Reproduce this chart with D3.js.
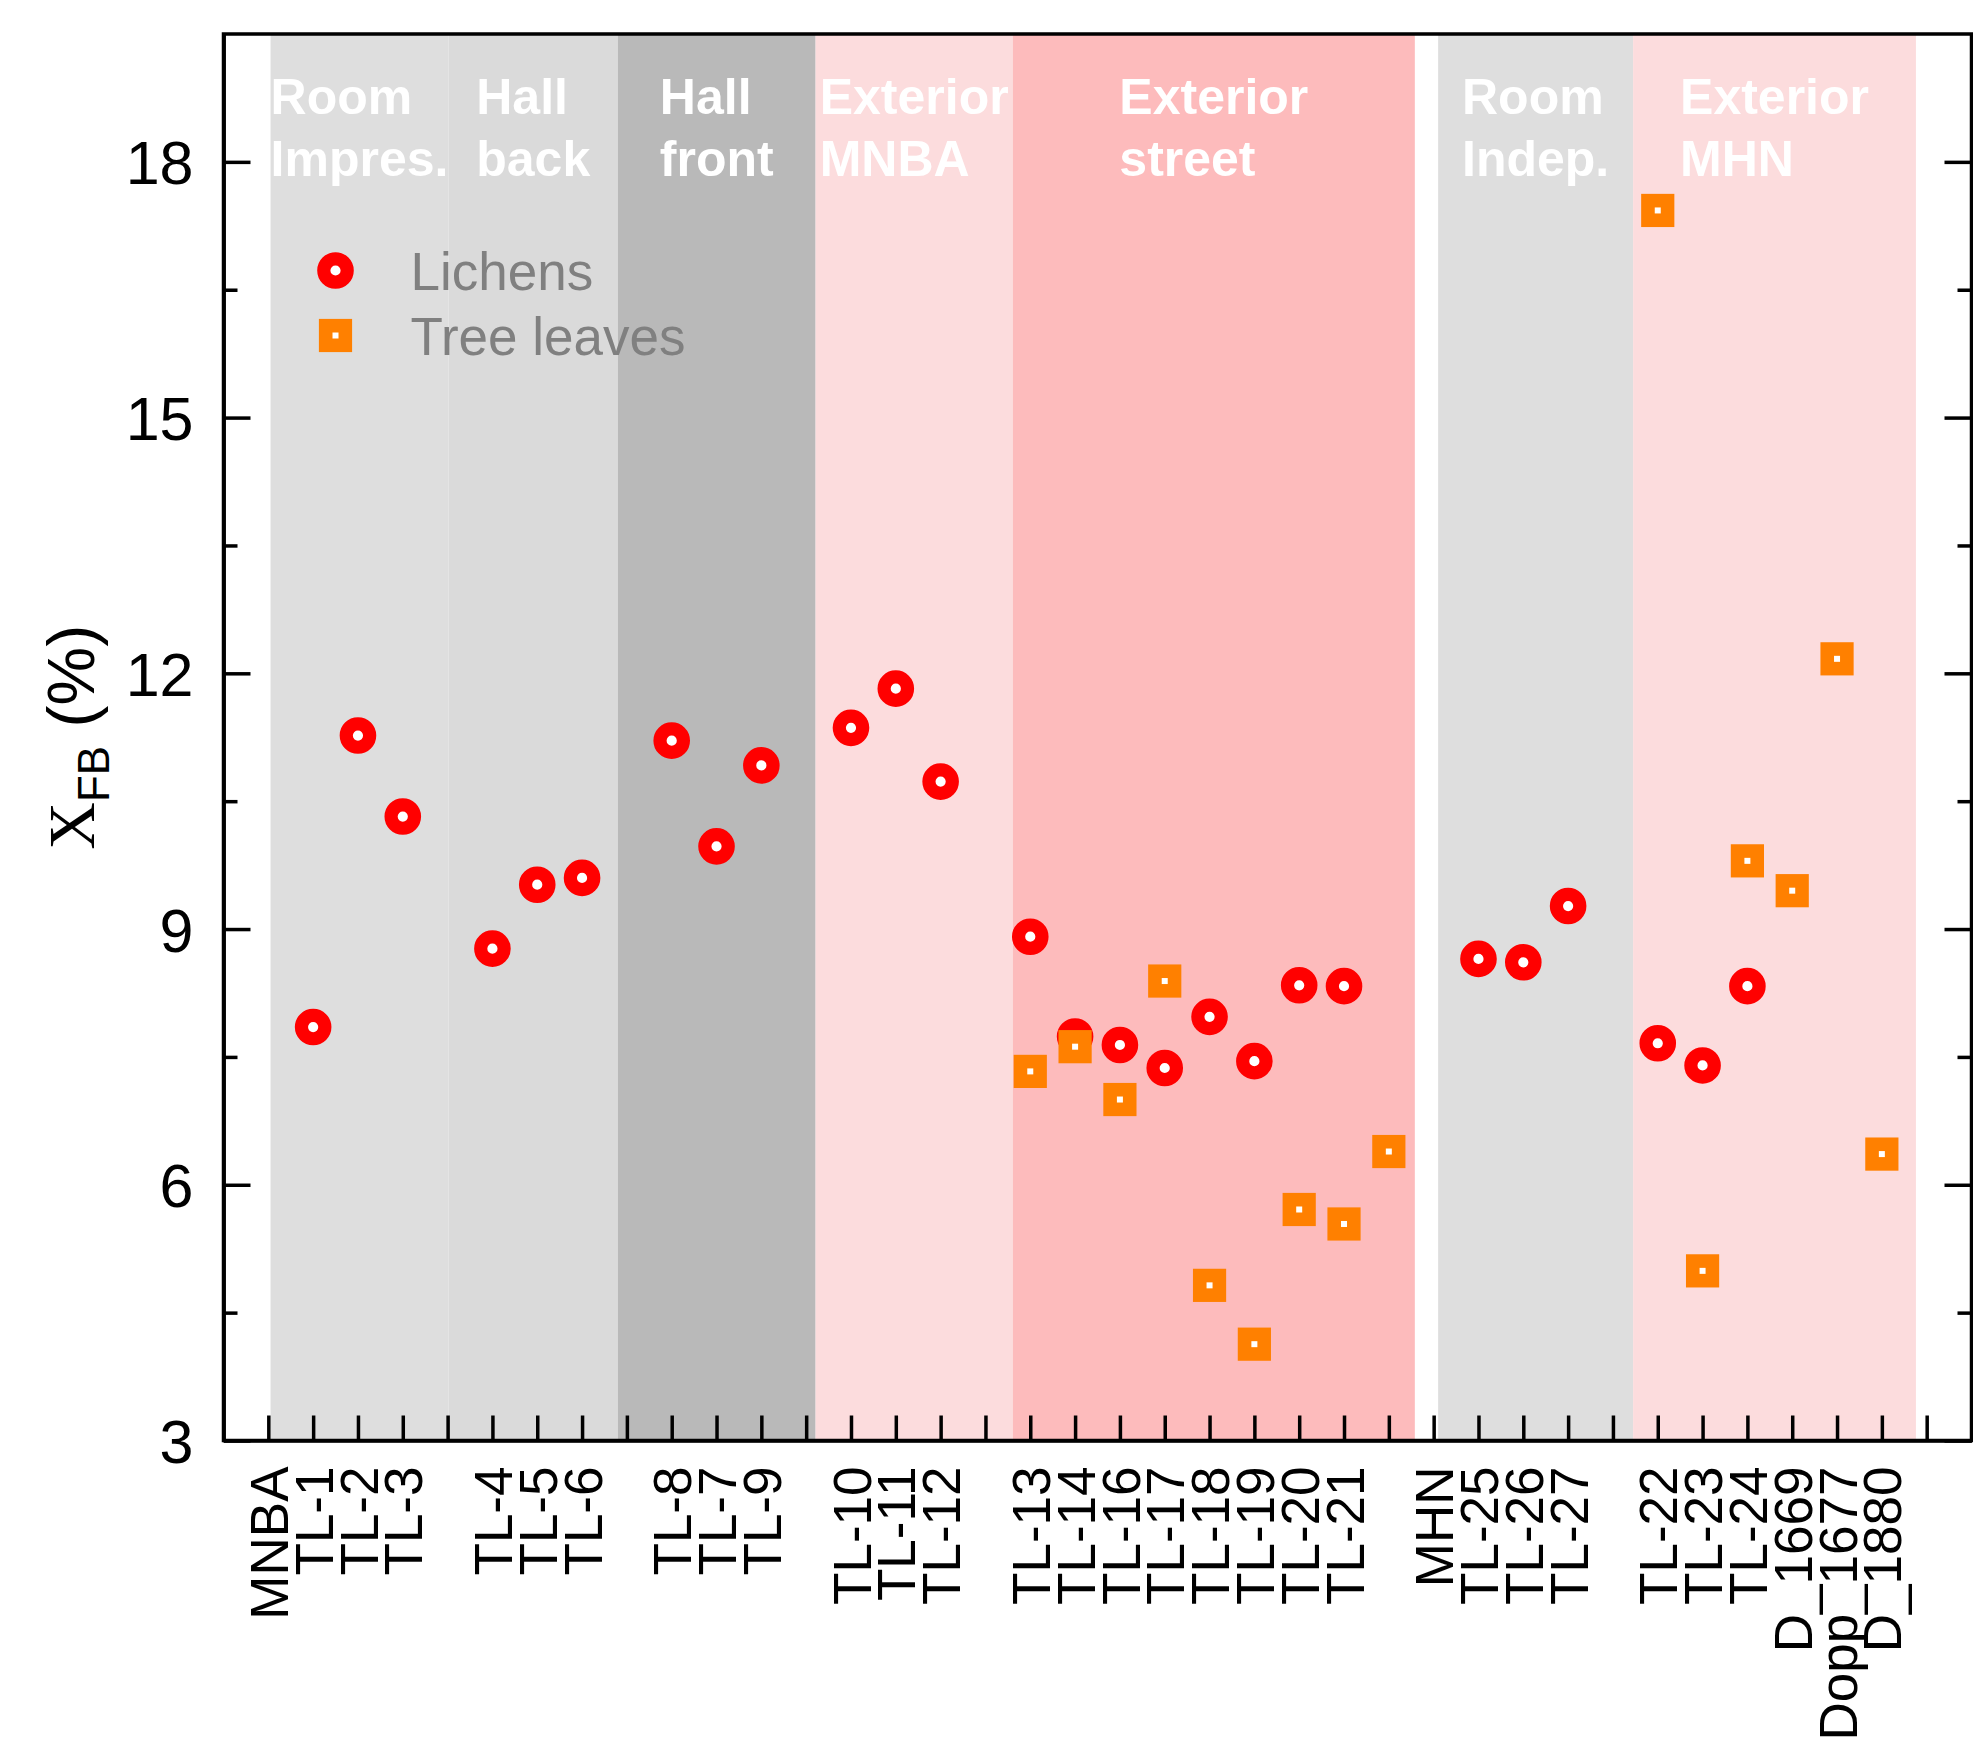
<!DOCTYPE html>
<html>
<head>
<meta charset="utf-8">
<script src="https://cdn.jsdelivr.net/npm/d3@7"></script>
<style>
  html, body { margin: 0; padding: 0; background: #fff; }
  svg { display: block; font-family: "Liberation Sans", Arial, sans-serif; }
</style>
</head>
<body>
<div id="chart"></div>
<script>
// sample positions along the x axis ('' = empty slot)
const categories = [
  'MNBA', 'TL-1', 'TL-2', 'TL-3', '',
  'TL-4', 'TL-5', 'TL-6', '',
  'TL-8', 'TL-7', 'TL-9', '',
  'TL-10', 'TL-11', 'TL-12', '',
  'TL-13', 'TL-14', 'TL-16', 'TL-17', 'TL-18', 'TL-19', 'TL-20', 'TL-21', '',
  'MHN', 'TL-25', 'TL-26', 'TL-27', '',
  'TL-22', 'TL-23', 'TL-24', 'D_1669', 'Dopp_1677', 'D_1880', ''
]

// X_FB (%) per slot, null = no sample
const lichens = [
  null, 7.85, 11.27, 10.32, null,
  8.77, 9.52, 9.60, null,
  11.21, 9.97, 10.92, null,
  11.36, 11.82, 10.73, null,
  8.91, 7.74, 7.64, 7.37, 7.97, 7.45, 8.34, 8.33, null,
  null, 8.65, 8.61, 9.27, null,
  7.66, 7.40, 8.33, null, null, null, null
]
const treeLeaves = [
  null, null, null, null, null,
  null, null, null, null,
  null, null, null, null,
  null, null, null, null,
  7.33, 7.62, 7.00, 8.39, 4.82, 4.13, 5.71, 5.54, 6.39,
  null, null, null, null, null,
  17.43, 4.99, 9.80, 9.45, 12.17, 6.36, null
]

// location bands (in slot units)
const bandNames  = [['Room', 'Impres.'], ['Hall', 'back'], ['Hall', 'front'], ['Exterior', 'MNBA'],
                    ['Exterior', 'street'], ['Room', 'Indep.'], ['Exterior', 'MHN']]
const bandStart  = [0.05, 4.02, 7.80, 12.21, 16.61, 26.10, 30.45]
const bandEnd    = [4.02, 7.80, 12.21, 16.61, 25.58, 30.45, 36.76]
const bandColors = ['#dedede', '#dadada', '#b9b9b9', '#fcdcdd', '#fdbbbc', '#dedede', '#fcdcdd']

const yMajor = [3, 6, 9, 12, 15, 18]
const yMinor = [4.5, 7.5, 10.5, 13.5, 16.5]

const RED = '#ff0000'
const ORANGE = '#ff8000'
const MARGIN = { top: 34, right: 1.5, bottom: 302.5, left: 223.5 }
const WIDTH = 1973, HEIGHT = 1743
const W = WIDTH - MARGIN.left - MARGIN.right
const H = HEIGHT - MARGIN.top - MARGIN.bottom

const svg = d3.select('#chart').append('svg')
  .attr('width', WIDTH)
  .attr('height', HEIGHT)

const g = svg.append('g').attr('transform', `translate(${MARGIN.left},${MARGIN.top})`)

const x = d3.scaleLinear().domain([-1, categories.length]).range([0, W])
const y = d3.scaleLinear().domain([3, 19.5]).range([H, 0])

// ── bands ────────────────────────────────────────────────────
g.append('g').selectAll('rect')
  .data(bandNames)
  .join('rect')
  .attr('x', (_, i) => x(bandStart[i]))
  .attr('width', (_, i) => x(bandEnd[i]) - x(bandStart[i]))
  .attr('y', 0)
  .attr('height', H)
  .attr('fill', (_, i) => bandColors[i])

const gLabels = g.append('g')
bandNames.forEach((lines, i) => {
  const t = gLabels.append('text')
    .attr('fill', '#fff')
    .style('font-size', '50px')
    .style('font-weight', 'bold')
  lines.forEach((line, li) => {
    t.append('tspan').attr('x', 0).attr('y', 80 + li * 62).text(line)
  })
  const widest = d3.max(t.selectAll('tspan').nodes(), n => n.getComputedTextLength())
  const cx = x((bandStart[i] + bandEnd[i]) / 2)
  t.attr('transform', `translate(${cx - widest / 2},0)`)
})

// ── axes ─────────────────────────────────────────────────────
const styleAxis = sel => {
  sel.selectAll('path, line').attr('stroke', '#000').attr('stroke-width', 3.5)
  sel.selectAll('text').attr('fill', '#000')
}

g.append('g')
  .call(d3.axisLeft(y).tickValues(yMajor).tickSizeInner(-27).tickSizeOuter(0).tickPadding(30))
  .call(styleAxis)
  .selectAll('text').style('font-size', '61px').attr('dy', '0.36em')

g.append('g')
  .call(d3.axisLeft(y).tickValues(yMinor).tickSizeInner(-14).tickSizeOuter(0).tickFormat(''))
  .call(styleAxis)

g.append('g').attr('transform', `translate(${W},0)`)
  .call(d3.axisRight(y).tickValues(yMajor).tickSizeInner(-27).tickSizeOuter(0).tickFormat(''))
  .call(styleAxis)

g.append('g').attr('transform', `translate(${W},0)`)
  .call(d3.axisRight(y).tickValues(yMinor).tickSizeInner(-14).tickSizeOuter(0).tickFormat(''))
  .call(styleAxis)

g.append('g').attr('transform', `translate(0,${H})`)
  .call(d3.axisBottom(x).tickValues(d3.range(categories.length))
    .tickSizeInner(-25).tickSizeOuter(0).tickFormat(i => categories[i]))
  .call(styleAxis)
  .selectAll('text')
  .style('font-size', '53px')
  .style('text-anchor', 'end')
  .attr('x', -26)
  .attr('y', 0)
  .attr('dy', '0.36em')
  .attr('transform', 'rotate(-90)')

g.append('rect')
  .attr('width', W)
  .attr('height', H)
  .attr('fill', 'none')
  .attr('stroke', '#000')
  .attr('stroke-width', 3.5)

// ── markers ──────────────────────────────────────────────────
const circle = sel => sel
  .attr('r', 11.7)
  .attr('fill', '#fff')
  .attr('stroke', RED)
  .attr('stroke-width', 13.2)

const square = sel => sel
  .attr('width', 19.6)
  .attr('height', 19.6)
  .attr('x', -9.8)
  .attr('y', -9.8)
  .attr('fill', '#fff')
  .attr('stroke', ORANGE)
  .attr('stroke-width', 13.6)

const lichenPts = lichens.map((v, i) => ({ i, v })).filter(d => d.v != null)
const leafPts = treeLeaves.map((v, i) => ({ i, v })).filter(d => d.v != null)

g.append('g').selectAll('circle')
  .data(lichenPts)
  .join('circle')
  .attr('cx', d => x(d.i))
  .attr('cy', d => y(d.v))
  .call(circle)

g.append('g').selectAll('rect')
  .data(leafPts)
  .join('rect')
  .attr('transform', d => `translate(${x(d.i)},${y(d.v)})`)
  .call(square)

// ── legend ───────────────────────────────────────────────────
const legend = g.append('g').attr('transform', 'translate(112,236.5)')
legend.append('circle').call(circle)
legend.append('rect').attr('transform', 'translate(0,65)').call(square)
const legendItems = ['Lichens', 'Tree leaves']
legend.selectAll('text.item')
  .data(legendItems)
  .join('text')
  .attr('class', 'item')
  .attr('x', 75)
  .attr('y', (_, i) => i * 65)
  .attr('dy', '0.36em')
  .attr('fill', '#808080')
  .style('font-size', '53px')
  .text(d => d)

// ── y title ──────────────────────────────────────────────────
const title = svg.append('text')
  .attr('transform', `translate(70,${MARGIN.top + H / 2}) rotate(-90)`)
  .attr('text-anchor', 'middle')
  .attr('dy', '0.36em')
  .attr('fill', '#000')
  .style('font-size', '66px')
title.append('tspan').style('font-family', '"Liberation Serif", "Times New Roman", serif').text('X')
title.append('tspan').attr('dy', 15).style('font-size', '44px').text('FB')
title.append('tspan').attr('dy', -15).text(' (%)')
</script>
</body>
</html>
